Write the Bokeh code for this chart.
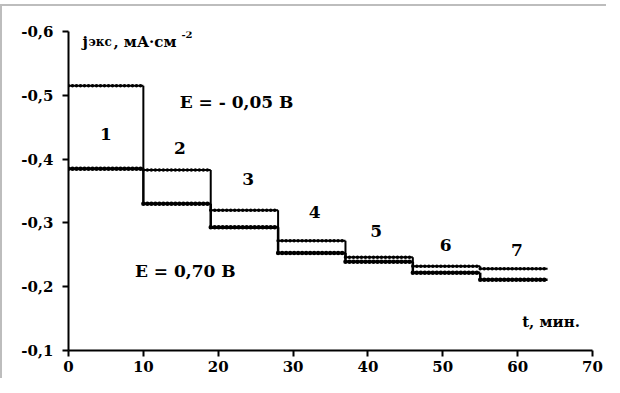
from bokeh.plotting import figure
from bokeh.models import Range1d, FixedTicker
from bokeh.core.properties import value
from bokeh.embed import file_html
from bokeh.resources import INLINE

# ---- data ----
t_edges = [0, 10, 19, 28, 37, 46, 55, 64]
j_e_minus005 = [-0.515, -0.383, -0.320, -0.272, -0.246, -0.232, -0.228]   # E = -0,05 В
j_e_070 = [-0.385, -0.330, -0.293, -0.253, -0.239, -0.222, -0.211]        # E = 0,70 В
step_labels = ["1", "2", "3", "4", "5", "6", "7"]
x_ticks = [0, 10, 20, 30, 40, 50, 60, 70]
y_ticks = [-0.6, -0.5, -0.4, -0.3, -0.2, -0.1]
y_tick_labels = ["-0,6", "-0,5", "-0,4", "-0,3", "-0,2", "-0,1"]

FONT_NAME = "DejaVu Serif"
FONT = value(FONT_NAME)

p = figure(width=606, height=374, output_backend="svg", toolbar_location=None,
           x_range=Range1d(0, 70), y_range=Range1d(-0.1, -0.6),
           min_border_left=66, min_border_top=25, min_border_right=16, min_border_bottom=30)
p.margin = (4, 0, 0, 0)
p.styles = {"border-top": "2px solid #bdbdbd", "border-left": "2px solid #bdbdbd"}
p.grid.visible = False
p.outline_line_color = None
p.background_fill_color = "white"

for ax in (p.xaxis[0], p.yaxis[0]):
    ax.axis_line_width = 2
    ax.axis_line_color = "black"
    ax.major_tick_line_width = 2
    ax.major_tick_line_color = "black"
    ax.major_tick_in = 0
    ax.major_tick_out = 6
    ax.minor_tick_line_color = None
    ax.major_label_text_font = FONT_NAME
    ax.major_label_text_font_style = "bold"
    ax.major_label_text_font_size = "15px"
    ax.major_label_text_color = "black"

p.xaxis[0].ticker = FixedTicker(ticks=x_ticks)
p.xaxis[0].major_label_standoff = 4
p.yaxis[0].ticker = FixedTicker(ticks=y_ticks)
p.yaxis[0].major_label_overrides = {t: l for t, l in zip(y_ticks, y_tick_labels)}
p.yaxis[0].major_label_standoff = 9

def draw_steps(vals, lw, dot_w):
    x0 = t_edges[:-1]
    x1 = t_edges[1:]
    p.segment(x0=x0, y0=vals, x1=x1, y1=vals, line_color="black", line_width=lw)
    p.segment(x0=x0, y0=vals, x1=x1, y1=vals, line_color="black", line_width=dot_w,
              line_dash="0 4", line_cap="round")
    p.segment(x0=t_edges[1:-1], y0=vals[:-1], x1=t_edges[1:-1], y1=vals[1:],
              line_color="black", line_width=lw)

draw_steps(j_e_minus005, 2, 3.5)
draw_steps(j_e_070, 2.5, 4.5)

# step numbers
num_x = [5.0, 14.9, 24.0, 32.9, 41.1, 50.4, 59.9]
num_y = [-0.44, -0.418, -0.369, -0.317, -0.287, -0.266, -0.258]
p.text(x=num_x, y=num_y, text=step_labels, text_font=FONT, text_font_style="bold",
       text_font_size="17px", text_align="center", text_baseline="middle", text_color="black")

# potential labels
p.text(x=[14.85, 8.88], y=[-0.490, -0.225], text=["E = - 0,05 В", "E = 0,70 В"],
       text_font=FONT, text_font_style="bold", text_font_size="17px",
       text_align="left", text_baseline="middle", text_color="black")

# x axis title
p.text(x=[60.6], y=[-0.144], text=["t, мин."], text_font=FONT, text_font_style="bold",
       text_font_size="15px", text_align="left", text_baseline="middle", text_color="black")

# y axis title pieces
yx, yy = 1.86, -0.584
p.text(x=[yx], y=[yy], text=["j"], text_font=FONT, text_font_style="bold",
       text_font_size="15px", text_align="left", text_baseline="alphabetic")
p.text(x=[yx], y=[yy], text=["экс"], x_offset=6, text_font=FONT, text_font_style="bold",
       text_font_size="12px", text_align="left", text_baseline="alphabetic")
p.text(x=[yx], y=[yy], text=[", мА·см"], x_offset=31, text_font=FONT, text_font_style="bold",
       text_font_size="15px", text_align="left", text_baseline="alphabetic")
p.text(x=[yx], y=[yy], text=["-2"], x_offset=99, y_offset=-7, text_font=FONT,
       text_font_style="bold", text_font_size="10px", text_align="left",
       text_baseline="alphabetic")

open("out.html", "w").write(file_html(p, INLINE))
